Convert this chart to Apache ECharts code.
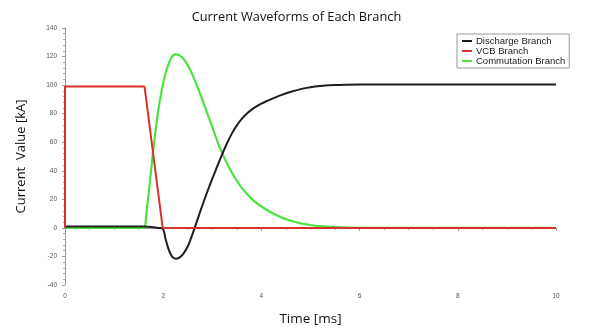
<!DOCTYPE html>
<html>
<head>
<meta charset="utf-8">
<script src="https://cdn.jsdelivr.net/npm/echarts@6/dist/echarts.min.js"></script>
<style>
html, body { margin: 0; padding: 0; background: #fff; }
#chart { width: 593px; height: 331px; }
</style>
</head>
<body>
<div id="chart"></div>
<script>
// values: [time ms, current kA]
var dischargeData = [
	[0, 1], [1.5, 1], [1.6, 1], [1.7, 0.8], [1.8, 0.5], [1.9, 0], [1.99, -0.5], [2.05, -8],
	[2.1, -14], [2.15, -18.3], [2.2, -20.8], [2.26, -21.6], [2.32, -21], [2.4, -18.5],
	[2.5, -13], [2.6, -4], [2.7, 6], [2.8, 16], [2.9, 25.5], [3.0, 34.5], [3.1, 43],
	[3.2, 51.5], [3.3, 59.3], [3.4, 66.2], [3.5, 71.8], [3.6, 76.3], [3.7, 79.9], [3.8, 82.8],
	[3.9, 85.1], [4.0, 87], [4.1, 88.7], [4.2, 90.2], [4.4, 93], [4.6, 95.3], [4.8, 97.2],
	[5.0, 98.5], [5.2, 99.3], [5.5, 100], [6, 100.4], [6.5, 100.5], [7, 100.5], [10, 100.5]
];
var vcbData = [
	[0, 0], [0, 99], [1.62, 99], [1.99, 0], [10, 0]
];
var commutationData = [
	[0, 0], [1.5, 0], [1.58, 0], [1.62, 0], [1.66, 11], [1.7, 23], [1.79, 52], [1.89, 80],
	[1.99, 100], [2.05, 108.5], [2.1, 114], [2.15, 118], [2.2, 120.7], [2.26, 121.5],
	[2.32, 121], [2.4, 119], [2.5, 114], [2.6, 107], [2.7, 98.5], [2.8, 89.5], [2.9, 80],
	[3.0, 70.5], [3.1, 61], [3.2, 52.5], [3.3, 45], [3.4, 38.5], [3.5, 33], [3.6, 28],
	[3.7, 24], [3.8, 20.5], [3.9, 17.5], [4.0, 15], [4.2, 10.8], [4.4, 7.5], [4.6, 5],
	[4.8, 3.2], [5.0, 2], [5.2, 1.2], [5.5, 0.5], [5.8, 0.15], [6.2, 0], [6.6, 0], [10, 0]
];
var xTicks = { min: 0, max: 10, step: 2 };
var yTicks = { min: -40, max: 140, step: 20 };
var legendNames = ["Discharge Branch", "VCB Branch", "Commutation Branch"];

var chart = echarts.init(document.getElementById("chart"));
var tickLabel = { color: '#555', fontSize: 6.5, fontFamily: 'Liberation Sans' };
var option = {
	backgroundColor: '#fff',
	animation: false,
	title: {
		text: 'Current Waveforms of Each Branch',
		left: 'center',
		top: 6,
		textStyle: { fontFamily: 'Open Sans', fontWeight: 'normal', fontSize: 12.8, color: '#111' }
	},
	legend: {
		data: legendNames,
		orient: 'vertical',
		left: 457,
		top: 34,
		padding: [2, 4, 2, 5],
		itemGap: 0,
		itemWidth: 10,
		itemHeight: 2,
		icon: 'rect',
		borderColor: '#999',
		borderWidth: 1,
		textStyle: { fontFamily: 'Liberation Sans', fontSize: 9.5, lineHeight: 9.5, color: '#222', padding: [0, 0, 0, -1] }
	},
	grid: { left: 65, right: 37, top: 28, bottom: 43 },
	xAxis: {
		type: 'value',
		min: xTicks.min,
		max: xTicks.max,
		interval: xTicks.step,
		name: 'Time [ms]',
		nameLocation: 'middle',
		nameGap: 27,
		nameTextStyle: { fontFamily: 'Open Sans', fontSize: 13.5, color: '#111' },
		axisLine: { lineStyle: { color: '#999' } },
		axisTick: { length: 3, lineStyle: { color: '#999' } },
		minorTick: { show: true, splitNumber: 4, length: 2, lineStyle: { color: '#aaa' } },
		axisLabel: tickLabel,
		splitLine: { show: false }
	},
	yAxis: {
		type: 'value',
		min: yTicks.min,
		max: yTicks.max,
		interval: yTicks.step,
		name: 'Current  Value [kA]',
		nameLocation: 'middle',
		nameGap: 37,
		nameTextStyle: { fontFamily: 'Open Sans', fontSize: 13, color: '#111' },
		axisLine: { show: true, onZero: false, lineStyle: { color: '#999' } },
		axisTick: { show: true, length: 3, lineStyle: { color: '#999' } },
		minorTick: { show: true, splitNumber: 5, length: 2, lineStyle: { color: '#aaa' } },
		axisLabel: tickLabel,
		splitLine: { show: false }
	},
	series: [
		{
			name: legendNames[0],
			type: 'line',
			data: dischargeData,
			showSymbol: false,
			smooth: 0.3,
			z: 3,
			lineStyle: { width: 2, color: '#1e1e1e' },
			itemStyle: { color: '#1e1e1e' }
		},
		{
			name: legendNames[1],
			type: 'line',
			data: vcbData,
			showSymbol: false,
			z: 4,
			lineStyle: { width: 2, color: '#d8312b' },
			itemStyle: { color: '#d8312b' }
		},
		{
			name: legendNames[2],
			type: 'line',
			data: commutationData,
			showSymbol: false,
			smooth: 0.3,
			z: 2,
			lineStyle: { width: 2.2, color: '#4be33f' },
			itemStyle: { color: '#4be33f' }
		}
	]
};
chart.setOption(option);
</script>
</body>
</html>
